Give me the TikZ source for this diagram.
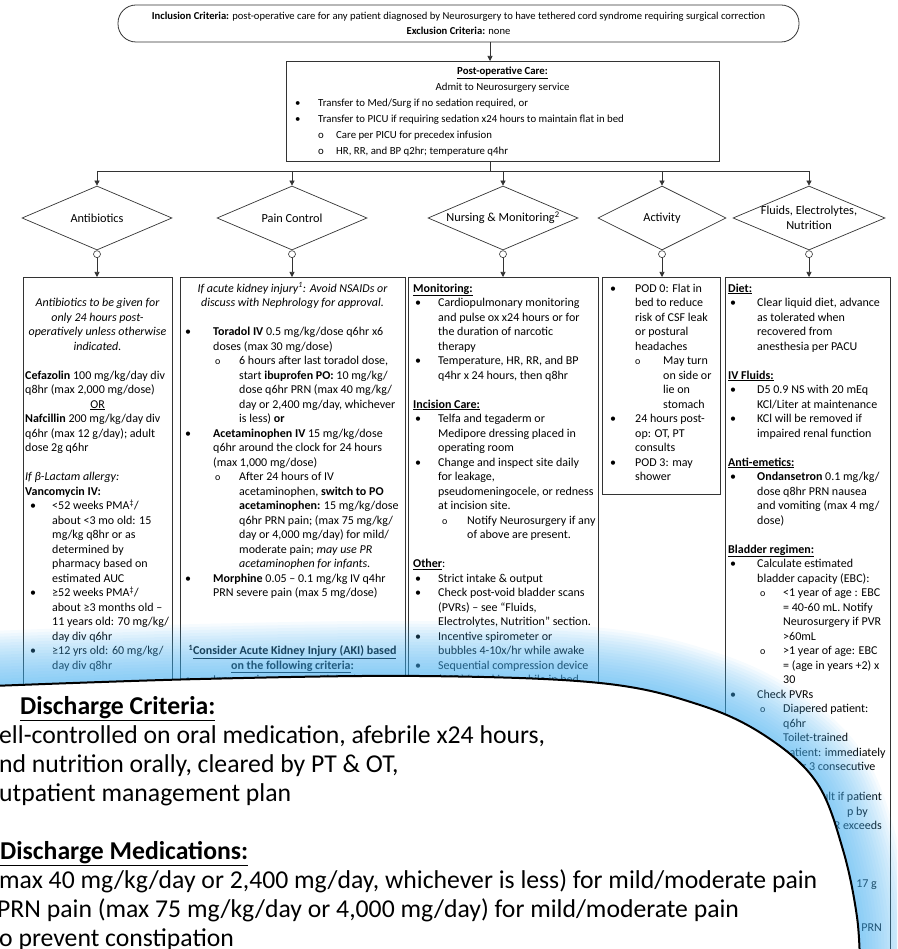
\documentclass[tikz,border=0pt]{standalone}
\usepackage{fontspec}
\setmainfont{Carlito}
\usetikzlibrary{shapes.geometric,arrows.meta}
\newlength\Lb \newlength\Lt \newlength\Lo \newlength\Ls
\newcommand\BI{\hspace*{\Lb}\makebox[\dimexpr\Lt-\Lb\relax][l]{•}}
\newcommand\CI{\hspace*{\Lt}}
\newcommand\SI{\hspace*{\Lo}\makebox[\dimexpr\Ls-\Lo\relax][l]{\fontsize{10}{10}\selectfont o}}
\newcommand\SC{\hspace*{\Ls}}
\newcommand\TL[1]{\begin{tabular}[t]{@{}l@{}}#1\end{tabular}}
\newcommand\TC[1]{\begin{tabular}[t]{@{}c@{}}#1\end{tabular}}
\definecolor{glowc}{RGB}{70,175,240}
\begin{document}
\begin{tikzpicture}[x=1pt,y=-1pt,
  ln/.style={line width=0.7pt, draw=black!80},
  arr/.style={ln, -{Triangle[length=5pt,width=5pt]}},
  dia/.style={shape=diamond, draw=black!80, line width=0.7pt, minimum width=150pt, minimum height=64pt, inner sep=0pt},
  dlabel/.style={align=center, inner sep=0pt, font=\fontsize{12.3}{15}\selectfont},
  conn/.style={circle, draw=black!80, line width=0.6pt, minimum size=7pt, inner sep=0pt},
  colbox/.style={draw=black!80, line width=0.8pt, anchor=north west, inner sep=0pt},
  ctxt/.style={anchor=base west, inner sep=0pt, font=\fontsize{12}{14.5}\selectfont},
  ctr/.style={anchor=base, inner sep=0pt, font=\fontsize{12}{14.5}\selectfont},
  colt/.style n args={4}{ctxt, execute at begin node={\setlength\Lb{#1}\setlength\Lt{#2}\setlength\Lo{#3}\setlength\Ls{#4}}},
  frag/.style={anchor=base east, inner sep=0pt, font=\fontsize{12}{14.5}\selectfont},
  big/.style={anchor=base west, inner sep=0pt, font=\fontsize{25.7}{29}\selectfont},
  glow/.style={draw=glowc, draw opacity=0.05, line cap=round}
]
\useasboundingbox (0,0) rectangle (897,949);
\clip (0,0) rectangle (897,949);

% header
\node[draw=black!80, line width=0.8pt, rounded corners=18pt, minimum width=681pt, minimum height=37pt, align=center, font=\fontsize{10.6}{15}\selectfont] (hdr) at (458.5,23.5)
  {\textbf{Inclusion Criteria:} post-operative care for any patient diagnosed by Neurosurgery to have tethered cord syndrome requiring surgical correction\\ \textbf{Exclusion Criteria:} none};
\coordinate (trunk) at (490,0);
\coordinate (bus) at (0,171);

% post-op box
\node[draw=black!80, line width=0.8pt, anchor=north west, minimum width=433pt, minimum height=100pt, inner sep=0pt] (post) at (286,61) {};
\node[anchor=base, inner sep=0pt, font=\fontsize{10.8}{16}\selectfont] (pt1) at (502.5,75) {\textbf{\underline{Post-operative Care:}}};
\node[anchor=base, inner sep=0pt, font=\fontsize{10.8}{16}\selectfont] (pt2) at (502.5,91) {Admit to Neurosurgery service};
\node[anchor=base west, inner sep=0pt, font=\fontsize{10.8}{16}\selectfont] (pt3) at (295,107)
  {\TL{\makebox[23pt][l]{•}Transfer to Med/Surg if no sedation required, or\\
   \makebox[23pt][l]{•}Transfer to PICU if requiring sedation x24 hours to maintain flat in bed\\
   \hspace*{23pt}\makebox[18pt][l]{o}Care per PICU for precedex infusion\\
   \hspace*{23pt}\makebox[18pt][l]{o}HR, RR, and BP q2hr; temperature q4hr}};

\draw[arr] (hdr.south -| trunk) -- (post.north -| trunk);

% diamonds
\node[dia] (d1) at (97,218) {};
\node[dia] (d2) at (292,218) {};
\node[dia] (d3) at (503,218) {};
\node[dia, minimum width=128pt] (d4) at (662,218) {};
\node[dia, minimum width=152pt] (d5) at (809,218) {};
\node[dlabel] (l1) at (d1) {Antibiotics};
\node[dlabel] (l2) at (d2) {Pain Control};
\node[dlabel] (l3) at (d3) {Nursing \& Monitoring\textsuperscript{2}};
\node[dlabel] (l4) at (d4) {Activity};
\node[dlabel] (l5) at (d5) {Fluids, Electrolytes,\\Nutrition};

\draw[ln] (post.south -| trunk) -- (trunk |- bus);
\draw[ln] (d1.north |- bus) -- (d5.north |- bus);
\foreach \d in {d1,d2,d3,d4,d5} \draw[arr] (\d.north |- bus) -- (\d.north);

% connectors
\foreach \i in {1,...,5} \node[conn, anchor=north] (c\i) at (d\i.south) {};

% column boxes
\node[colbox, minimum width=149pt, minimum height=483pt] (b1) at (23,277) {};
\node[colbox, minimum width=225pt, minimum height=483pt] (b2) at (180,277) {};
\node[colbox, minimum width=190pt, minimum height=483pt] (b3) at (408,277) {};
\node[colbox, minimum width=118pt, minimum height=217pt] (b4) at (602,277) {};
\node[colbox, minimum width=165pt, minimum height=683pt] (b5) at (725,277) {};
\foreach \i in {1,...,5} \draw[arr] (c\i.south) -- (c\i.south |- b\i.north);

% Antibiotics
\node[ctr, font=\fontsize{12}{14.5}\selectfont\itshape] (a1) at (97.5,306.5)
  {\TC{Antibiotics to be given for\\only 24 hours post-\\operatively unless otherwise\\indicated.}};
\node[colt={5pt}{27pt}{27pt}{27pt}] (a2) at (25,379)
  {\TL{\textbf{Cefazolin} 100 mg/kg/day div\\
   q8hr (max 2,000 mg/dose)\\
   \makebox[145pt][c]{\underline{OR}}\\
   \textbf{Nafcillin} 200 mg/kg/day div\\
   q6hr (max 12 g/day); adult\\
   dose 2g q6hr\\
   \\
   \textit{If β-Lactam allergy:}\\
   \textbf{Vancomycin IV:}\\
   \BI <52 weeks PMA\textsuperscript{‡}/\\
   \CI about <3 mo old: 15\\
   \CI mg/kg q8hr or as\\
   \CI determined by\\
   \CI pharmacy based on\\
   \CI estimated AUC\\
   \BI ≥52 weeks PMA\textsuperscript{‡}/\\
   \CI about ≥3 months old –\\
   \CI 11 years old: 70 mg/kg/\\
   \CI day div q6hr\\
   \BI ≥12 yrs old: 60 mg/kg/\\
   \CI day div q8hr}};

% Pain control
\node[ctr, font=\fontsize{12}{14.5}\selectfont\itshape] (p1) at (292.5,292)
  {\TC{If acute kidney injury\textsuperscript{1}: Avoid NSAIDs or\\discuss with Nephrology for approval.}};
\node[colt={0pt}{28pt}{30pt}{54pt}] (p2) at (185,335.5)
  {\TL{\BI\textbf{Toradol IV} 0.5 mg/kg/dose q6hr x6\\
   \CI doses (max 30 mg/dose)\\
   \SI 6 hours after last toradol dose,\\
   \SC start \textbf{ibuprofen PO:} 10 mg/kg/\\
   \SC dose q6hr PRN (max 40 mg/kg/\\
   \SC day or 2,400 mg/day, whichever\\
   \SC is less) \textbf{or}\\
   \BI\textbf{Acetaminophen IV} 15 mg/kg/dose\\
   \CI q6hr around the clock for 24 hours\\
   \CI (max 1,000 mg/dose)\\
   \SI After 24 hours of IV\\
   \SC acetaminophen, \textbf{switch to PO}\\
   \SC\textbf{acetaminophen:} 15 mg/kg/dose\\
   \SC q6hr PRN pain; (max 75 mg/kg/\\
   \SC day or 4,000 mg/day) for mild/\\
   \SC moderate pain; \textit{may use PR}\\
   \SC\textit{acetaminophen for infants.}\\
   \BI\textbf{Morphine} 0.05 – 0.1 mg/kg IV q4hr\\
   \CI PRN severe pain (max 5 mg/dose)}};
\node[ctr] (p3) at (292.5,654.5)
  {\TC{\textbf{\textsuperscript{1}\underline{Consider Acute Kidney Injury (AKI) based}}\\
   \textbf{\underline{on the following criteria}:}}};
\node[colt={0pt}{28pt}{30pt}{54pt}] (p4) at (185,683.5) {\BI Increase in serum creatinine by 1.5};

% Nursing
\node[colt={2pt}{25pt}{29pt}{54pt}] (n1) at (413,292)
  {\TL{\textbf{\underline{Monitoring:}}\\
   \BI Cardiopulmonary monitoring\\
   \CI and pulse ox x24 hours or for\\
   \CI the duration of narcotic\\
   \CI therapy\\
   \BI Temperature, HR, RR, and BP\\
   \CI q4hr x 24 hours, then q8hr\\
   \\
   \textbf{\underline{Incision Care:}}\\
   \BI Telfa and tegaderm or\\
   \CI Medipore dressing placed in\\
   \CI operating room\\
   \BI Change and inspect site daily\\
   \CI for leakage,\\
   \CI pseudomeningocele, or redness\\
   \CI at incision site.\\
   \SI Notify Neurosurgery if any\\
   \SC of above are present.\\
   \\
   \textbf{\underline{Other}}:\\
   \BI Strict intake \& output\\
   \BI Check post-void bladder scans\\
   \CI (PVRs) – see “Fluids,\\
   \CI Electrolytes, Nutrition” section.\\
   \BI Incentive spirometer or\\
   \CI bubbles 4-10x/hr while awake\\
   \BI Sequential compression device\\
   \CI (SCD)/ stockings while in bed}};

% Activity
\node[colt={0pt}{25pt}{25pt}{53pt}] (ac1) at (610,292)
  {\TL{\BI POD 0: Flat in\\
   \CI bed to reduce\\
   \CI risk of CSF leak\\
   \CI or postural\\
   \CI headaches\\
   \SI May turn\\
   \SC on side or\\
   \SC lie on\\
   \SC stomach\\
   \BI 24 hours post-\\
   \CI op: OT, PT\\
   \CI consults\\
   \BI POD 3: may\\
   \CI shower}};

% Fluids
\node[colt={2pt}{29pt}{32pt}{55pt}] (f1) at (728,292)
  {\TL{\textbf{\underline{Diet:}}\\
   \BI Clear liquid diet, advance\\
   \CI as tolerated when\\
   \CI recovered from\\
   \CI anesthesia per PACU\\
   \\
   \textbf{\underline{IV Fluids:}}\\
   \BI D5 0.9 NS with 20 mEq\\
   \CI KCl/Liter at maintenance\\
   \BI KCl will be removed if\\
   \CI impaired renal function\\
   \\
   \textbf{\underline{Anti-emetics:}}\\
   \BI\textbf{Ondansetron} 0.1 mg/kg/\\
   \CI dose q8hr PRN nausea\\
   \CI and vomiting (max 4 mg/\\
   \CI dose)\\
   \\
   \textbf{\underline{Bladder regimen:}}\\
   \BI Calculate estimated\\
   \CI bladder capacity (EBC):\\
   \SI <1 year of age : EBC\\
   \SC = 40-60 mL. Notify\\
   \SC Neurosurgery if PVR\\
   \SC >60mL\\
   \SI >1 year of age: EBC\\
   \SC = (age in years +2) x\\
   \SC 30\\
   \BI Check PVRs\\
   \SI Diapered patient:\\
   \SC q6hr\\
   \SI Toilet-trained\\
   \SC patient: immediately\\
   \SC after 3 consecutive}};
\node[frag] (f2) at (882,800.5) {ult if patient};
\node[frag] (f3) at (868,815) {p by};
\node[frag] (f4) at (882,829.5) {R exceeds};
\node[frag] (f5) at (877,887.5) {17 g};
\node[frag] (f6) at (882,931) {PRN};

% magnifier overlay
\path[save path=\ovcurve] plot[smooth, tension=0.6] coordinates {(-8,686) (200,679) (420,676) (600,683) (700,705) (767,737) (817,783) (843,850) (857,917) (860,968)};
\path[save path=\ovregion] plot[smooth, tension=0.6] coordinates {(-8,686) (200,679) (420,676) (600,683) (700,705) (767,737) (817,783) (843,850) (857,917) (860,968)} -- (-8,968) -- cycle;
\foreach \w in {110,104,...,8} \draw[glow, line width=\w pt, use path=\ovcurve];
\fill[white, use path=\ovregion];
\draw[black, line width=2pt, use path=\ovcurve];

\node[big] (o1) at (20,714) {\textbf{\underline{Discharge Criteria:}}};
\node[big] (o2) at (-1,743) {ell-controlled on oral medication, afebrile x24 hours,};
\node[big] (o3) at (-1,772) {nd nutrition orally, cleared by PT \& OT,};
\node[big] (o4) at (-1,801) {utpatient management plan};
\node[big] (o5) at (0,859) {\textbf{\underline{Discharge Medications:}}};
\node[big] (o6) at (-1,888) {max 40 mg/kg/day or 2,400 mg/day, whichever is less) for mild/moderate pain};
\node[big] (o7) at (-3,917) {PRN pain (max 75 mg/kg/day or 4,000 mg/day) for mild/moderate pain};
\node[big] (o8) at (-1,946) {o prevent constipation};
\end{tikzpicture}
\end{document}
